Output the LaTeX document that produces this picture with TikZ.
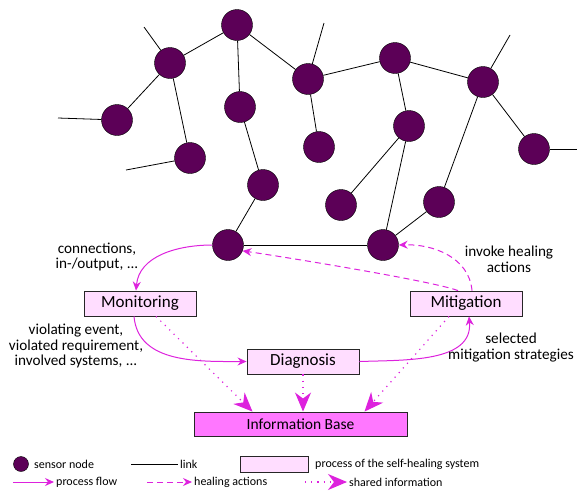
\documentclass[tikz,border=0pt]{standalone}
\usepackage{fontspec}
\setmainfont{Carlito}
\usetikzlibrary{arrows.meta}
\definecolor{sensor_purple}{HTML}{5C0057}
\definecolor{flow_magenta}{HTML}{DD22DD}
\definecolor{proc_pink}{HTML}{FFDDFF}
\definecolor{base_pink}{HTML}{FF77FF}

\tikzset{
	sensor/.style={circle, draw=black, fill=sensor_purple, minimum size=31pt, inner sep=0pt},
	link/.style={black, line width=0.8pt},
	process/.style={draw=black!85, line width=0.9pt, fill=proc_pink, minimum width=112pt, minimum height=25pt, inner sep=0pt, font=\fontsize{17}{20}\selectfont},
	infobase/.style={process, fill=base_pink, minimum width=213pt, minimum height=24pt, font=\fontsize{15.5}{18}\selectfont},
	note/.style={align=center, inner sep=0pt, font=\fontsize{15.2}{15.6}\selectfont},
	legtext/.style={anchor=west, inner sep=2pt, font=\fontsize{12}{14}\selectfont},
	flow/.style={flow_magenta, line width=1pt, -{Stealth[length=9pt, width=8pt, inset=3pt]}},
	heal/.style={flow, dash pattern=on 6pt off 4pt},
	shared/.style={flow_magenta, line width=1.2pt, dash pattern=on 1.2pt off 5pt, -{Stealth[length=19pt, width=16pt, inset=6pt]}}
}

\begin{document}
\begin{tikzpicture}[x=1pt, y=-1pt]
	\useasboundingbox (0,0) rectangle (577,491);
	% sensor network
	\node[sensor] (n1) at (237,25) {};
	\node[sensor] (n2) at (170,63) {};
	\node[sensor] (n3) at (117,120) {};
	\node[sensor] (n4) at (190,158) {};
	\node[sensor] (n5) at (240,107) {};
	\node[sensor] (n6) at (263,185) {};
	\node[sensor] (n7) at (308,79) {};
	\node[sensor] (n8) at (319,147) {};
	\node[sensor] (n9) at (395,58) {};
	\node[sensor] (n10) at (409,126) {};
	\node[sensor] (n11) at (341,205) {};
	\node[sensor] (n12) at (483,82) {};
	\node[sensor] (n13) at (534,149) {};
	\node[sensor] (n14) at (439,202) {};
	\node[sensor] (n15) at (228,245) {};
	\node[sensor] (n16) at (383,245) {};
	\coordinate (e2) at (144,27);
	\coordinate (e3) at (58,118);
	\coordinate (e4) at (126,170);
	\coordinate (e7) at (324,23);
	\coordinate (e12) at (510,35);
	\coordinate (e13) at (577,149);
	\foreach \a/\b in {n1/n2, n1/n5, n1/n7, n2/n3, n2/n4, n5/n6, n6/n15, n7/n8, n7/n9, n9/n10, n9/n12, n10/n11, n10/n16, n12/n13, n12/n14, n14/n16, n15/n16, n2/e2, n3/e3, n4/e4, n7/e7, n12/e12, n13/e13}
		\draw[link] (\a) -- (\b);

	% self-healing process
	\node[process] (mon) at (140,303.5) {Monitoring};
	\node[process] (diag) at (303,361.5) {Diagnosis};
	\node[process] (mit) at (466,303.5) {Mitigation};
	\node[infobase] (info) at (300.5,424) {Information Base};

	\draw[flow] (n15.west) to[out=180, in=85] ([xshift=-4pt]mon.north);
	\draw[flow] ([xshift=-6pt]mon.south) to[out=-85, in=180] (diag.west);
	\draw[flow] (diag.east) to[out=2, in=-85] ([xshift=3pt]mit.south);
	\draw[heal] ([xshift=-8pt]mit.north) to[out=160, in=-8, looseness=0.35] (n15.-22);
	\draw[heal] ([xshift=6pt]mit.north) to[out=95, in=2] (n16.east);
	\draw[shared] ([xshift=16pt]mon.south) -- ([xshift=-48pt]info.north);
	\draw[shared] (diag.south) -- (diag.south |- info.north);
	\draw[shared] ([xshift=-17pt]mit.south) -- ([xshift=64pt]info.north);

	\node[note] (lconn) at (97,257) {connections,\\in-/output, ...};
	\node[note] (lviol) at (76,346) {violating event,\\violated requirement,\\involved systems, ...};
	\node[note] (linv) at (509,259) {invoke healing\\actions};
	\node[note] (lsel) at (511,347.5) {selected\\mitigation strategies};

	% legend
	\node[sensor, minimum size=15pt] (lsensor) at (21,464) {};
	\node[legtext] (tsensor) at (32,464) {sensor node};
	\coordinate (llink) at (131,464);
	\node[legtext] (tlink) at (178,464) {link};
	\draw[link] (llink) -- (tlink.west);
	\node[process, minimum width=68pt, minimum height=16pt] (lproc) at (274,464) {};
	\node[legtext] (tproc) at (313,464) {process of the self-healing system};
	\coordinate (lflow) at (13,482);
	\node[legtext] (tflow) at (54,482) {process flow};
	\draw[flow] (lflow) -- (tflow.west);
	\coordinate (lheal) at (147,482);
	\node[legtext] (theal) at (192,482) {healing actions};
	\draw[heal] (lheal) -- (theal.west);
	\coordinate (lshared) at (305,482);
	\node[legtext] (tshared) at (347,482) {shared information};
	\draw[shared] (lshared) -- (tshared.west);
\end{tikzpicture}
\end{document}
